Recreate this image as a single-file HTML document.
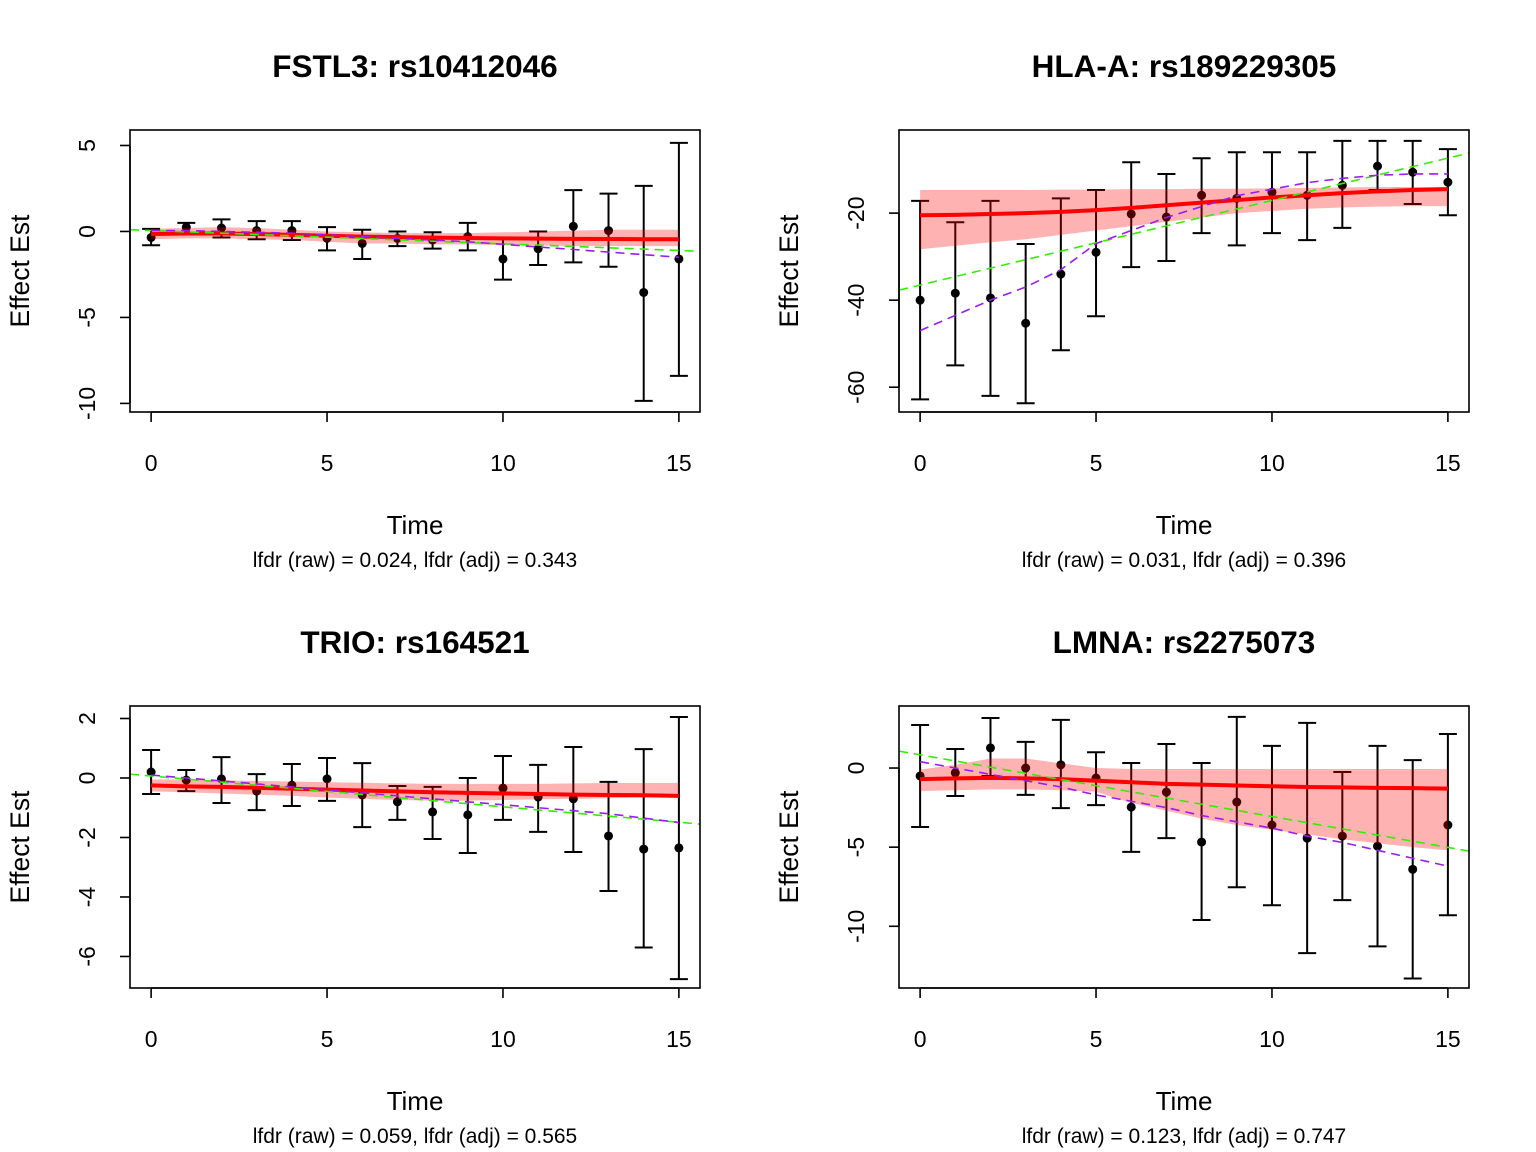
<!DOCTYPE html>
<html><head><meta charset="utf-8"><style>
body{margin:0;background:#fff}
svg{display:block;font-family:"Liberation Sans",Arial,sans-serif}
</style></head><body>
<svg id="chart" width="1536" height="1152" viewBox="0 0 1536 1152" xmlns="http://www.w3.org/2000/svg"></svg>
<script>
const times = [0,1,2,3,4,5,6,7,8,9,10,11,12,13,14,15];
const titles = ["FSTL3: rs10412046","HLA-A: rs189229305","TRIO: rs164521","LMNA: rs2275073"];
const subtitles = ["lfdr (raw) = 0.024, lfdr (adj) = 0.343","lfdr (raw) = 0.031, lfdr (adj) = 0.396","lfdr (raw) = 0.059, lfdr (adj) = 0.565","lfdr (raw) = 0.123, lfdr (adj) = 0.747"];
const yTicks = [[5,0,-5,-10],[-20,-40,-60],[2,0,-2,-4,-6],[0,-5,-10]];
const yRanges = [[-10.5,5.9],[-65.7,-0.9],[-7.06,2.42],[-13.9,3.92]];
const xTicks = [0,5,10,15];

const est1 = [-0.35,0.25,0.2,0.05,0.05,-0.4,-0.7,-0.4,-0.5,-0.3,-1.6,-1.0,0.3,0.05,-3.55,-1.6];
const up1 = [0.15,0.5,0.7,0.6,0.6,0.25,0.1,0,-0.05,0.5,-0.35,0,2.4,2.2,2.65,5.15];
const lo1 = [-0.8,-0.1,-0.35,-0.45,-0.5,-1.1,-1.6,-0.85,-1.0,-1.1,-2.8,-1.95,-1.8,-2.05,-9.85,-8.4];
const fit1 = [-0.15,-0.12,-0.12,-0.15,-0.2,-0.25,-0.3,-0.33,-0.36,-0.38,-0.4,-0.42,-0.43,-0.44,-0.45,-0.45];
const bandHi1 = [0.15,0.2,0.25,0.2,0.1,0.0,-0.05,-0.1,-0.1,-0.1,-0.05,0,0.05,0.1,0.1,0.1];
const bandLo1 = [-0.45,-0.4,-0.4,-0.45,-0.5,-0.6,-0.7,-0.7,-0.75,-0.75,-0.8,-0.8,-0.85,-0.85,-0.85,-0.85];
const purple1 = [0.05,0.05,0.0,-0.05,-0.1,-0.2,-0.3,-0.4,-0.5,-0.6,-0.75,-0.9,-1.05,-1.2,-1.35,-1.5];
const green1 = [0.1,-1.15];

const est2 = [-40,-38.4,-39.5,-45.3,-34,-29,-20.2,-20.9,-15.9,-16.6,-15.2,-15.9,-13.6,-9.2,-10.6,-12.9];
const up2 = [-17.2,-22.1,-17.2,-27.1,-16.6,-14.7,-8.3,-11,-7.4,-6,-6,-6,-3.4,-3.4,-3.4,-5.3];
const lo2 = [-62.8,-55,-62,-63.7,-51.5,-43.7,-32.4,-31,-24.6,-27.4,-24.6,-26.2,-23.4,-14.7,-17.9,-20.5];
const fit2 = [-20.5,-20.4,-20.2,-20,-19.7,-19.3,-18.8,-18.2,-17.6,-17,-16.4,-15.9,-15.4,-15,-14.7,-14.5];
const bandHi2 = [-14.7,-14.7,-14.7,-14.7,-14.6,-14.6,-14.5,-14.5,-14.4,-14.4,-14.3,-14.2,-14.1,-14,-14,-14];
const bandLo2 = [-28.3,-27.5,-26.7,-26,-25,-24,-23,-22,-21,-20,-19.5,-19,-18.7,-18.5,-18.4,-18.4];
const purple2 = [-47,-43.5,-40,-37,-33,-27,-24,-21,-18.5,-16,-14.5,-13,-12,-11.3,-11,-11];
const green2 = [-37.7,-6.2];

const est3 = [0.2,-0.07,-0.03,-0.44,-0.24,-0.03,-0.57,-0.8,-1.14,-1.24,-0.34,-0.64,-0.7,-1.95,-2.39,-2.35];
const up3 = [0.94,0.27,0.7,0.13,0.47,0.67,0.5,-0.27,-0.3,0,0.74,0.44,1.04,-0.13,0.97,2.05];
const lo3 = [-0.54,-0.44,-0.84,-1.08,-0.94,-0.77,-1.65,-1.41,-2.05,-2.52,-1.41,-1.81,-2.49,-3.8,-5.7,-6.76];
const fit3 = [-0.25,-0.28,-0.3,-0.33,-0.36,-0.39,-0.42,-0.45,-0.48,-0.5,-0.52,-0.54,-0.56,-0.57,-0.58,-0.6];
const bandHi3 = [-0.05,-0.05,-0.08,-0.1,-0.12,-0.14,-0.16,-0.18,-0.2,-0.2,-0.2,-0.2,-0.18,-0.17,-0.17,-0.17];
const bandLo3 = [-0.45,-0.48,-0.52,-0.56,-0.6,-0.66,-0.7,-0.74,-0.76,-0.76,-0.74,-0.72,-0.7,-0.68,-0.66,-0.64];
const purple3 = [0.1,0.0,-0.1,-0.2,-0.3,-0.4,-0.5,-0.6,-0.7,-0.8,-0.9,-1.0,-1.1,-1.2,-1.35,-1.5];
const green3 = [0.13,-1.55];

const est4 = [-0.5,-0.3,1.27,0,0.2,-0.63,-2.47,-1.52,-4.68,-2.15,-3.6,-4.43,-4.3,-4.94,-6.4,-3.6];
const up4 = [2.72,1.2,3.16,1.65,3.04,1.0,0.32,1.52,0.32,3.23,1.4,2.85,-0.25,1.4,0.5,2.15];
const lo4 = [-3.73,-1.77,-0.5,-1.7,-2.53,-2.34,-5.3,-4.43,-9.6,-7.53,-8.67,-11.7,-8.35,-11.27,-13.3,-9.3];
const fit4 = [-0.7,-0.65,-0.62,-0.65,-0.7,-0.8,-0.9,-1.0,-1.05,-1.1,-1.15,-1.2,-1.22,-1.25,-1.27,-1.3];
const bandHi4 = [-0.1,0.2,0.6,0.6,0.3,0.0,-0.06,-0.06,-0.06,-0.06,-0.06,-0.06,-0.06,-0.06,-0.06,-0.06];
const bandLo4 = [-1.45,-1.4,-1.35,-1.35,-1.4,-1.5,-2.2,-2.7,-3.2,-3.6,-3.9,-4.2,-4.5,-4.75,-5.0,-5.2];
const purple4 = [0.4,0.0,-0.4,-0.8,-1.2,-1.7,-2.1,-2.5,-3.0,-3.4,-3.8,-4.3,-4.7,-5.2,-5.7,-6.2];
const green4 = [1.07,-5.25];

const panels = [
 {est:est1,up:up1,lo:lo1,fit:fit1,bh:bandHi1,bl:bandLo1,pu:purple1,gr:green1},
 {est:est2,up:up2,lo:lo2,fit:fit2,bh:bandHi2,bl:bandLo2,pu:purple2,gr:green2},
 {est:est3,up:up3,lo:lo3,fit:fit3,bh:bandHi3,bl:bandLo3,pu:purple3,gr:green3},
 {est:est4,up:up4,lo:lo4,fit:fit4,bh:bandHi4,bl:bandLo4,pu:purple4,gr:green4}
];
const NS="http://www.w3.org/2000/svg";
const svg=document.getElementById('chart');
function mk(tag,attrs,parent,text){const e=document.createElementNS(NS,tag);for(const k in attrs)e.setAttribute(k,attrs[k]);if(text!==undefined)e.textContent=text;(parent||svg).appendChild(e);return e;}

panels.forEach((p,i)=>{
 const bx = i%2===0?130:899, by = i<2?130:706, bw=570, bh=282;
 const g=mk('g',{});
 
 
 const [ymin,ymax]=yRanges[i];
 const X=t=>bx+(t+0.6)/16.2*bw;
 const Y=v=>by+(ymax-v)/(ymax-ymin)*bh;
 const cid='clip'+i;
 const cp=mk('clipPath',{id:cid},g);mk('rect',{x:bx,y:by,width:bw,height:bh},cp);
 times.forEach((t,j)=>{
  const eb=mk('g',{stroke:'#000','stroke-width':2},g);
  
  
  mk('line',{x1:X(t),x2:X(t),y1:Y(p.up[j]),y2:Y(p.lo[j])},eb);
  mk('line',{x1:X(t)-9,x2:X(t)+9,y1:Y(p.up[j]),y2:Y(p.up[j])},eb);
  mk('line',{x1:X(t)-9,x2:X(t)+9,y1:Y(p.lo[j]),y2:Y(p.lo[j])},eb);
  const c=mk('circle',{cx:X(t),cy:Y(p.est[j]),r:4.5,fill:'#000'},g);
  
  
 });
 let d='M'+times.map((t,j)=>X(t)+','+Y(p.bh[j])).join('L')+'L'+times.slice().reverse().map((t,k)=>X(t)+','+Y(p.bl[15-k])).join('L')+'Z';
 const band=mk('path',{d:d,fill:'rgb(255,0,0)','fill-opacity':0.3},g);
 
 
 const fl=mk('polyline',{points:times.map((t,j)=>X(t)+','+Y(p.fit[j])).join(' '),fill:'none',stroke:'#ff0000','stroke-width':4},g);
 
 
 const gl=mk('line',{x1:X(-0.6),x2:X(15.6),y1:Y(p.gr[0]),y2:Y(p.gr[1]),stroke:'#33ee00','stroke-width':1.6,'stroke-dasharray':'9,6','clip-path':'url(#'+cid+')'},g);
 
 
 const pl=mk('polyline',{points:times.map((t,j)=>X(t)+','+Y(p.pu[j])).join(' '),fill:'none',stroke:'#9a1cf0','stroke-width':1.6,'stroke-dasharray':'9,6'},g);
 
 
 const box=mk('rect',{x:bx,y:by,width:bw,height:bh,fill:'none',stroke:'#000','stroke-width':1.6},g);
 
 
 mk('line',{x1:X(0),x2:X(15),y1:by+bh,y2:by+bh,stroke:'#000','stroke-width':1.6},g);
 xTicks.forEach(t=>{
  mk('line',{x1:X(t),x2:X(t),y1:by+bh,y2:by+bh+10,stroke:'#000','stroke-width':1.6},g);
  const tl=mk('text',{x:X(t),y:by+bh+59,'font-size':23,'text-anchor':'middle'},g,String(t));
  
  
 });
 const yt=yTicks[i];
 mk('line',{x1:bx,x2:bx,y1:Y(yt[0]),y2:Y(yt[yt.length-1]),stroke:'#000','stroke-width':1.6},g);
 yt.forEach(v=>{
  mk('line',{x1:bx-10,x2:bx,y1:Y(v),y2:Y(v),stroke:'#000','stroke-width':1.6},g);
  const tl=mk('text',{x:0,y:0,'font-size':23,'text-anchor':'middle',transform:'translate('+(bx-35)+','+Y(v)+') rotate(-90)'},g,String(v));
  
  
 });
 const ti=mk('text',{x:bx+bw/2,y:by-53,'font-size':31.5,'font-weight':'bold','text-anchor':'middle'},g,titles[i]);
 
 
 const xl=mk('text',{x:bx+bw/2,y:by+bh+122,'font-size':26,'text-anchor':'middle'},g,'Time');
 
 
 const sub=mk('text',{x:bx+bw/2,y:by+bh+155,'font-size':21,'text-anchor':'middle'},g,subtitles[i]);
 
 
 const yl=mk('text',{x:0,y:0,'font-size':26.5,'text-anchor':'middle',transform:'translate('+(bx-101)+','+(by+bh/2)+') rotate(-90)'},g,'Effect Est');
 
 
});
</script>
</body></html>
